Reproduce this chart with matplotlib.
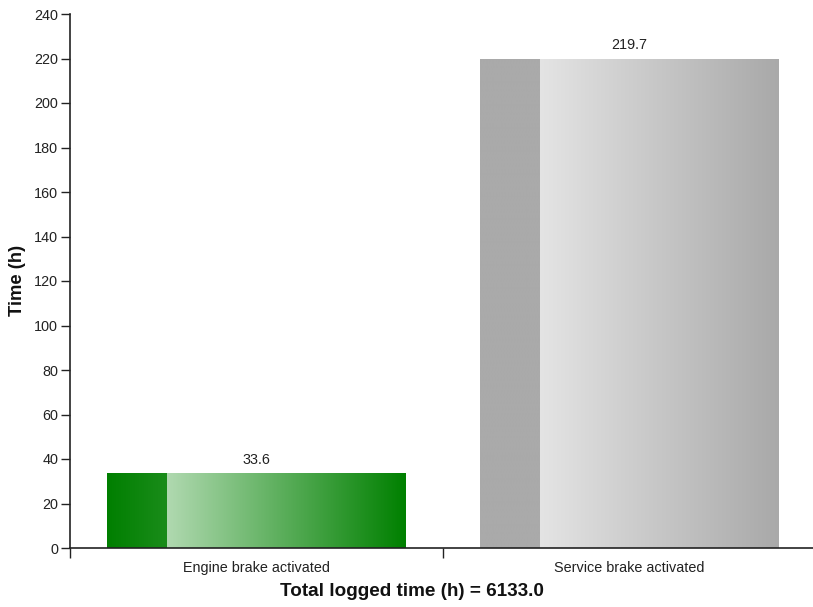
import numpy as np
import matplotlib
matplotlib.use("Agg")
import matplotlib.pyplot as plt
from matplotlib.colors import to_rgb

categories = ["Engine brake activated", "Service brake activated"]
values = [33.6, 219.7]
value_labels = ["33.6", "219.7"]
total_label = "Total logged time (h) = 6133.0"
y_label = "Time (h)"
y_ticks = list(range(0, 241, 20))

# (solid-left start, solid-left end, gradient start, gradient end)
bar_colors = [
    ("#007f00", "#1a8c1a", "#b0d9b0", "#008000"),
    ("#aaaaaa", "#aaaaaa", "#e4e4e4", "#a9a9a9"),
]

plt.rcParams['font.family'] = ['Liberation Sans', 'DejaVu Sans']

W, H = 813, 607
fig = plt.figure(figsize=(W / 100, H / 100), dpi=100)
ax = fig.add_axes([70 / W, (H - 548) / H, 746 / W, 534 / H])
ax.set_xlim(0, 2)
ax.set_ylim(0, 240)

bar_w = 0.8
solid_frac = 0.2
for i, (v, cols) in enumerate(zip(values, bar_colors)):
    x0 = i + 0.5 - bar_w / 2
    x1 = i + 0.5 + bar_w / 2
    xs = x0 + solid_frac * bar_w
    n = 256
    t = np.linspace(0, 1, n)[None, :, None]
    c0, c1, c2, c3 = [np.array(to_rgb(c))[None, None, :] for c in cols]
    img1 = c0 * (1 - t) + c1 * t
    img2 = c2 * (1 - t) + c3 * t
    ax.imshow(img1, extent=[x0, xs, 0, v], aspect='auto', interpolation='bilinear', zorder=2)
    ax.imshow(img2, extent=[xs, x1, 0, v], aspect='auto', interpolation='bilinear', zorder=2)
    ax.text(i + 0.5, v + 3, value_labels[i], ha='center', va='bottom', fontsize=10.4, color='#222222')

ax.set_xlim(0, 2)
ax.set_ylim(0, 240)

for s in ['top', 'right']:
    ax.spines[s].set_visible(False)
for s in ['left', 'bottom']:
    ax.spines[s].set_color('#222222')
    ax.spines[s].set_linewidth(1.2)

ax.set_yticks(y_ticks)
ax.tick_params(axis='y', length=6.5, width=1, color='#222222', labelsize=10.4, labelcolor='#222222', pad=2)

ax.set_xticks([0, 1, 2])
ax.set_xticklabels([])
ax.tick_params(axis='x', which='major', length=7, width=1, color='#222222')
ax.set_xticks([0.5, 1.5], minor=True)
ax.set_xticklabels(categories, minor=True)
ax.tick_params(axis='x', which='minor', length=0, labelsize=10.4, labelcolor='#222222', pad=9.5)

fig.text(412 / W, (H - 592) / H, total_label, ha='center', va='center', fontsize=13.6, fontweight='bold', color='#111111')
fig.text(17 / W, (H - 280) / H, y_label, ha='center', va='center', rotation=90, fontsize=13.2, fontweight='bold', color='#111111')

fig.savefig("out.png", dpi=100)
